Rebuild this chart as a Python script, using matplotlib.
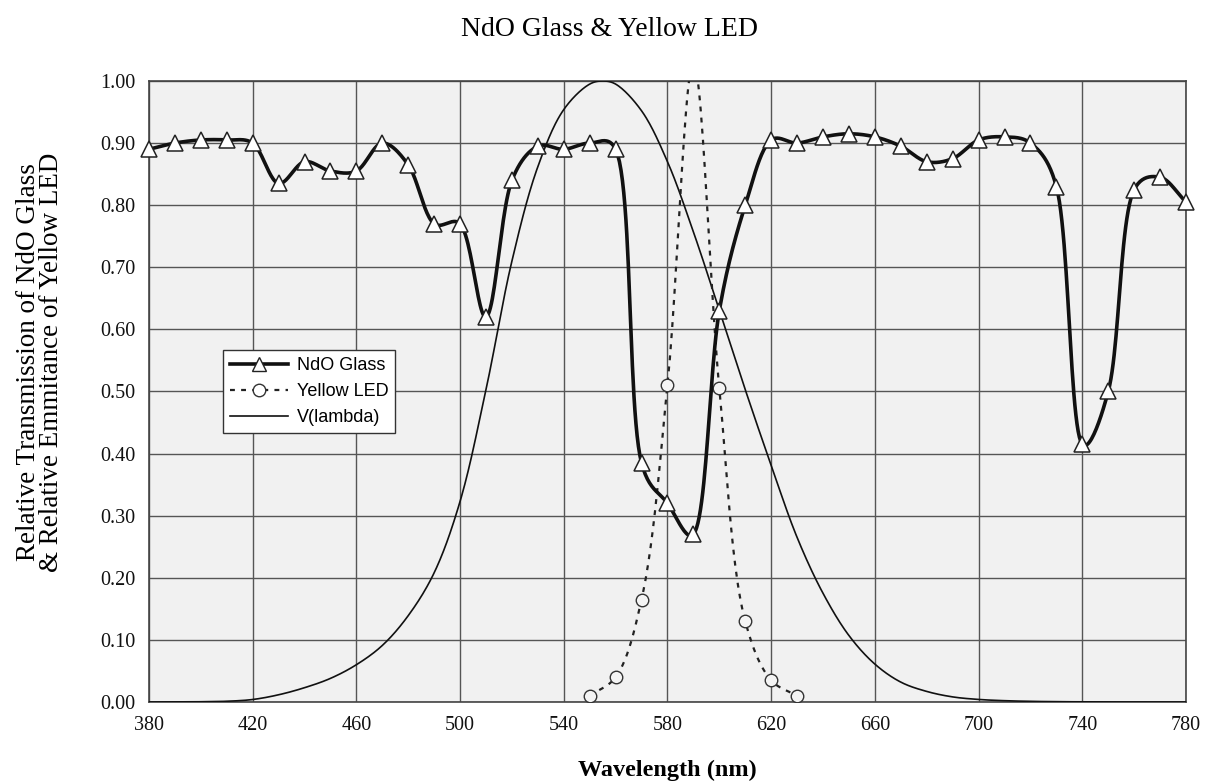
import numpy as np
import matplotlib
matplotlib.use("Agg")
import matplotlib.pyplot as plt
from matplotlib.lines import Line2D

# ---------------- data ----------------
ndo_wl = [380, 390, 400, 410, 420, 430, 440, 450, 460, 470, 480, 490, 500, 510,
          520, 530, 540, 550, 560, 570, 580, 590, 600, 610, 620, 630, 640, 650,
          660, 670, 680, 690, 700, 710, 720, 730, 740, 750, 760, 770, 780]
ndo_val = [0.89, 0.90, 0.905, 0.905, 0.90, 0.835, 0.87, 0.855, 0.855, 0.90, 0.865,
           0.77, 0.77, 0.62, 0.84, 0.895, 0.89, 0.90, 0.89, 0.385, 0.32, 0.27,
           0.63, 0.80, 0.905, 0.90, 0.91, 0.915, 0.91, 0.895, 0.87, 0.875, 0.905,
           0.91, 0.90, 0.83, 0.415, 0.50, 0.825, 0.845, 0.805]

led_wl = [550, 560, 570, 580, 590, 600, 610, 620, 630]
led_val = [0.01, 0.04, 0.165, 0.51, 1.03, 0.505, 0.13, 0.035, 0.01]

v_wl = [380, 390, 400, 410, 420, 430, 440, 450, 460, 470, 480, 490, 500, 510,
        520, 530, 540, 550, 555, 560, 570, 580, 590, 600, 610, 620, 630, 640,
        650, 660, 670, 680, 690, 700, 710, 720, 730, 740, 750, 760, 770, 780]
v_val = [0.00004, 0.00012, 0.0004, 0.0012, 0.004, 0.0116, 0.023, 0.038, 0.06,
         0.091, 0.139, 0.208, 0.323, 0.503, 0.71, 0.862, 0.954, 0.995, 1.0,
         0.995, 0.952, 0.87, 0.757, 0.631, 0.503, 0.381, 0.265, 0.175, 0.107,
         0.061, 0.032, 0.017, 0.0082, 0.0041, 0.0021, 0.00105, 0.00052,
         0.00025, 0.00012, 0.00006, 0.00003, 0.000015]

x_ticks = [380, 420, 460, 500, 540, 580, 620, 660, 700, 740, 780]
y_ticks = [0.0, 0.1, 0.2, 0.3, 0.4, 0.5, 0.6, 0.7, 0.8, 0.9, 1.0]

XS, YS = 2.59, 621.0  # display scale (px per unit) used for smoothing


def smooth(x, y, n=24, alpha=0.5):
    """Centripetal Catmull-Rom smoothing in display-scaled space."""
    P = np.column_stack([np.asarray(x, float) * XS, np.asarray(y, float) * YS])
    P = np.vstack([2 * P[0] - P[1], P, 2 * P[-1] - P[-2]])
    pts = []
    for i in range(1, len(P) - 2):
        p0, p1, p2, p3 = P[i - 1], P[i], P[i + 1], P[i + 2]
        t0 = 0.0
        t1 = t0 + np.linalg.norm(p1 - p0) ** alpha
        t2 = t1 + np.linalg.norm(p2 - p1) ** alpha
        t3 = t2 + np.linalg.norm(p3 - p2) ** alpha
        t = np.linspace(t1, t2, n, endpoint=False)[:, None]
        a1 = (t1 - t) / (t1 - t0) * p0 + (t - t0) / (t1 - t0) * p1
        a2 = (t2 - t) / (t2 - t1) * p1 + (t - t1) / (t2 - t1) * p2
        a3 = (t3 - t) / (t3 - t2) * p2 + (t - t2) / (t3 - t2) * p3
        b1 = (t2 - t) / (t2 - t0) * a1 + (t - t0) / (t2 - t0) * a2
        b2 = (t3 - t) / (t3 - t1) * a2 + (t - t1) / (t3 - t1) * a3
        c = (t2 - t) / (t2 - t1) * b1 + (t - t1) / (t2 - t1) * b2
        pts.append(c)
    pts.append(P[-2][None, :])
    pts = np.vstack(pts)
    return pts[:, 0] / XS, pts[:, 1] / YS


serif = ["Liberation Serif", "DejaVu Serif"]
sans = ["Liberation Sans", "DejaVu Sans"]

fig = plt.figure(figsize=(12.07, 7.84), dpi=100)
ax = fig.add_axes([0.1234, 0.1046, 0.8592, 0.7921])
ax.set_facecolor("#f1f1f1")

ax.set_xlim(380, 780)
ax.set_ylim(0, 1.0)
ax.set_xticks(x_ticks)
ax.set_yticks(y_ticks)
ax.set_xticklabels([str(v) for v in x_ticks], fontfamily=serif, fontsize=14.5)
ax.set_yticklabels([f"{v:.2f}" for v in y_ticks], fontfamily=serif, fontsize=14.5)
ax.tick_params(axis="x", length=0, pad=10, colors="#111111")
ax.tick_params(axis="y", length=0, pad=10, colors="#111111")
ax.grid(True, color="#555555", linewidth=1.0)
ax.set_axisbelow(True)
for s in ax.spines.values():
    s.set_color("#444444")
    s.set_linewidth(1.2)

# V(lambda)
vx, vy = smooth(v_wl, v_val)
ax.plot(vx, vy, color="#111111", linewidth=1.2, zorder=3)

# Yellow LED
lx, ly = smooth(led_wl, led_val)
ax.plot(lx, ly, color="#222222", linewidth=1.6, linestyle=(0, (2.2, 2.8)), zorder=3)
ax.plot(led_wl, led_val, linestyle="none", marker="o", markersize=9,
        markerfacecolor="#f4f4f4", markeredgecolor="#333333", markeredgewidth=1.0,
        zorder=4)

# NdO Glass
nx, ny = smooth(ndo_wl, ndo_val, alpha=0.35)
ax.plot(nx, ny, color="#111111", linewidth=2.6, zorder=5)
ax.plot(ndo_wl, ndo_val, linestyle="none", marker="^", markersize=11,
        markerfacecolor="white", markeredgecolor="#222222", markeredgewidth=1.1,
        zorder=6, clip_on=False)

handles = [
    Line2D([], [], color="#111111", linewidth=2.6, marker="^", markersize=10,
           markerfacecolor="white", markeredgecolor="#222222"),
    Line2D([], [], color="#222222", linewidth=1.6, linestyle=(0, (2.2, 2.8)), marker="o",
           markersize=9, markerfacecolor="white", markeredgecolor="#333333"),
    Line2D([], [], color="#111111", linewidth=1.2),
]
leg = ax.legend(handles, ["NdO Glass", "Yellow LED", "V(lambda)"],
                loc="upper left", bbox_to_anchor=(0.071, 0.567),
                prop={"family": sans, "size": 13}, frameon=True, fancybox=False,
                edgecolor="#333333", framealpha=1.0, facecolor="white",
                borderpad=0.4, labelspacing=0.5, handlelength=3.2,
                handletextpad=0.5, borderaxespad=0)
leg.get_frame().set_linewidth(1.0)
leg.set_zorder(10)

fig.text(0.505, 0.962, "NdO Glass & Yellow LED", ha="center", va="center",
         fontfamily=serif, fontsize=20)
ax.set_xlabel("Wavelength (nm)", fontfamily=serif, fontsize=17.5, fontweight="bold")
ax.xaxis.set_label_coords(0.5, -0.093)
ax.set_ylabel("Relative Transmission of NdO Glass\n& Relative Emmitance of Yellow LED",
              fontfamily=serif, fontsize=19.5, linespacing=0.9)
ax.yaxis.set_label_coords(-0.082, 0.547)

fig.savefig("out.png", dpi=100)
